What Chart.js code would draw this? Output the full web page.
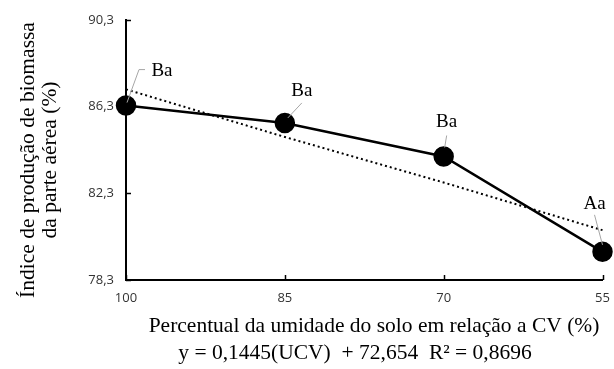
<!DOCTYPE html>
<html>
<head>
<meta charset="utf-8">
<script src="https://cdn.jsdelivr.net/npm/chart.js@4.4.1/dist/chart.umd.min.js"></script>
<style>
  html, body { margin: 0; padding: 0; background: #fff; }
  #wrap { width: 614px; height: 369px; }
</style>
</head>
<body>
<div id="wrap"><canvas id="grafico" width="614" height="369"></canvas></div>
<script>
// dados
const umidade = ['100', '85', '70', '55'];
const indice = [86.35, 85.55, 84.0, 79.6];
const tendencia = [87.1, 84.9, 82.8, 80.6];
const letras = ['Ba', 'Ba', 'Ba', 'Aa'];
const ticksY = [78.3, 82.3, 86.3, 90.3];
const tituloY = ['Índice de produção de biomassa', 'da parte aérea (%)'];
const tituloX = 'Percentual da umidade do solo em relação a CV (%)';
const equacao = 'y = 0,1445(UCV)  + 72,654  R² = 0,8696';

// posição do rótulo e da linha guia (em pixels, relativo ao ponto)
const guias = [
    { tx: 36, ty: -35, lx1: 1, ly1: -3, lx2: 13, ly2: -36, lx3: 19, ly3: -36 },
    { tx: 17, ty: -32, lx1: 3, ly1: -5, lx2: 17, ly2: -20 },
    { tx: 3, ty: -34, lx1: 1, ly1: -9, lx2: 3, ly2: -21 },
    { tx: -8, ty: -48, lx1: 0, ly1: -7, lx2: -8, ly2: -37 }
];

const serifa = '"Liberation Serif", "Times New Roman", serif';
const virgula = v => v.toFixed(1).replace('.', ',');

// marcas dos eixos para dentro, títulos e rótulos com linha guia
const extras = {
    id: 'extras',
    afterDatasetsDraw(chart) {
        const c = chart.ctx;
        const xs = chart.scales.x, ys = chart.scales.y;
        c.save();
        c.strokeStyle = '#000';
        c.lineWidth = 1.5;
        ys.ticks.forEach((t, i) => {
            const py = Math.round(ys.getPixelForTick(i)) + 0.5;
            c.beginPath();
            c.moveTo(xs.left, py);
            c.lineTo(xs.left + 5, py);
            c.stroke();
        });
        xs.ticks.forEach((t, i) => {
            const px = Math.round(xs.getPixelForTick(i)) + 0.5;
            c.beginPath();
            c.moveTo(px, ys.bottom);
            c.lineTo(px, ys.bottom - 5);
            c.stroke();
        });

        c.font = '21.5px ' + serifa;
        c.fillStyle = '#000';
        c.textAlign = 'center';
        c.textBaseline = 'middle';
        // título do eixo x e equação
        c.fillText(tituloX, 374, 326);
        c.fillText(equacao, 355, 353);
        // título do eixo y
        c.save();
        c.translate(28, 160);
        c.rotate(-Math.PI / 2);
        c.fillText(tituloY[0], 0, 0);
        c.fillText(tituloY[1], 0, 22);
        c.restore();

        const meta = chart.getDatasetMeta(0);
        c.font = '19px ' + serifa;
        meta.data.forEach((pt, i) => {
            const g = guias[i];
            c.strokeStyle = '#a6a6a6';
            c.lineWidth = 1;
            c.beginPath();
            c.moveTo(pt.x + g.lx1, pt.y + g.ly1);
            c.lineTo(pt.x + g.lx2, pt.y + g.ly2);
            if (g.lx3 !== undefined) c.lineTo(pt.x + g.lx3, pt.y + g.ly3);
            c.stroke();
            c.fillStyle = '#000';
            c.fillText(letras[i], pt.x + g.tx, pt.y + g.ty);
        });
        c.restore();
    }
};

const ctx = document.getElementById('grafico').getContext('2d');
const grafico = new Chart(ctx, {
    type: 'line',
    data: {
        labels: umidade,
        datasets: [{
            label: 'Índice',
            data: indice,
            borderColor: '#000',
            backgroundColor: '#000',
            borderWidth: 2.5,
            pointRadius: 9,
            pointHoverRadius: 9,
            pointBackgroundColor: '#000',
            tension: 0,
            order: 1
        }, {
            label: 'Tendência',
            data: tendencia,
            borderColor: '#000',
            borderWidth: 2,
            borderDash: [2, 3],
            pointRadius: 0,
            tension: 0,
            order: 2
        }]
    },
    options: {
        responsive: false,
        animation: false,
        events: [],
        layout: {
            padding: { top: 20, right: 8, bottom: 0, left: 0 }
        },
        plugins: {
            legend: { display: false },
            tooltip: { enabled: false }
        },
        scales: {
            x: {
                offset: false,
                grid: { display: false, drawTicks: false },
                border: { display: true, color: '#000', width: 2 },
                ticks: {
                    color: '#333',
                    padding: 10,
                    maxRotation: 0,
                    font: { family: '"Open Sans", "Liberation Sans", sans-serif', size: 13 }
                },
                afterFit(scale) {
                    scale.height = 89;
                    scale.paddingRight = 0;
                    scale.paddingLeft = 0;
                }
            },
            y: {
                min: 78.3,
                max: 90.3,
                afterBuildTicks(scale) {
                    scale.ticks = ticksY.map(v => ({ value: v }));
                },
                grid: { display: false, drawTicks: false },
                border: { display: true, color: '#000', width: 2 },
                ticks: {
                    color: '#333',
                    padding: 12,
                    callback: v => virgula(v),
                    font: { family: '"Open Sans", "Liberation Sans", sans-serif', size: 13 }
                },
                afterFit(scale) {
                    scale.width = 126;
                    scale.paddingTop = 0;
                    scale.paddingBottom = 0;
                }
            }
        }
    },
    plugins: [extras]
});
</script>
</body>
</html>
